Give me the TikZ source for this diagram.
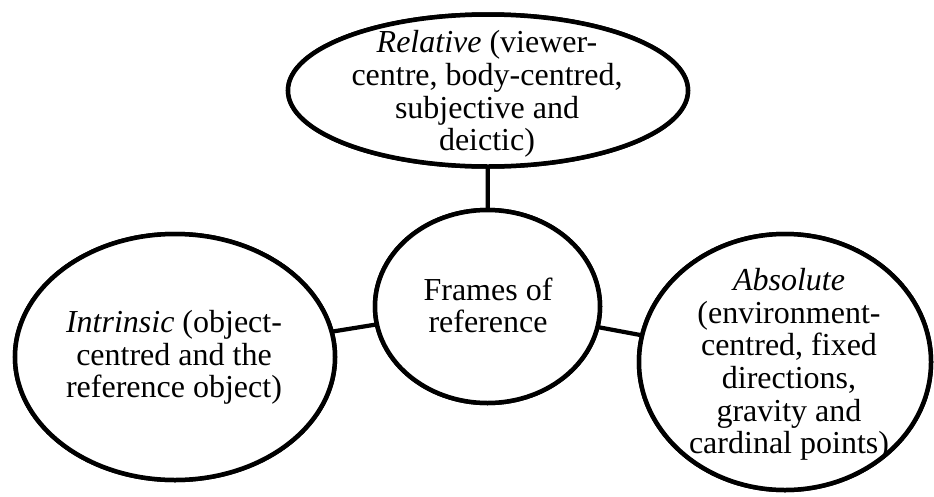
\documentclass[tikz,border=0pt]{standalone}
\usepackage{fontspec}
\setmainfont{Liberation Serif}
\usetikzlibrary{shapes.geometric}
\tikzset{
  frame/.style={ellipse, draw=black, line width=4.5pt, fill=white, inner sep=0pt, outer sep=0pt},
  label text/.style={align=center, inner sep=0pt, font=\fontsize{32}{32.6}\selectfont},
  link/.style={line width=4.2pt, black}
}
\begin{document}
\begin{tikzpicture}[x=1pt, y=-1pt]
  \useasboundingbox (0,0) rectangle (934,496);
  % outlines of the four frames
  \node[frame, minimum width=400pt, minimum height=152pt] (rel) at (488,90.5) {};
  \node[frame, minimum width=225pt, minimum height=193pt] (mid) at (487.5,306.5) {};
  \node[frame, minimum width=320pt, minimum height=246pt] (intr) at (175,357) {};
  \node[frame, minimum width=292pt, minimum height=256pt] (abs) at (785,362) {};
  % links to the central frame
  \draw[link] (rel) -- (mid);
  \draw[link] (intr) -- (mid);
  \draw[link] (abs) -- (mid);
  % redraw outlines over the link ends
  \node[frame, minimum width=400pt, minimum height=152pt] at (rel.center) {};
  \node[frame, minimum width=225pt, minimum height=193pt] at (mid.center) {};
  \node[frame, minimum width=320pt, minimum height=246pt] at (intr.center) {};
  \node[frame, minimum width=292pt, minimum height=256pt] at (abs.center) {};
  % texts
  \node[label text] (reltext) at (487,94) {\textit{Relative} (viewer-\\centre, body-centred,\\subjective and\\deictic)};
  \node[label text] (midtext) at (488,305.5) {Frames of\\reference};
  \node[label text] (intrtext) at (174,357.5) {\textit{Intrinsic} (object-\\centred and the\\reference object)};
  \node[label text] (abstext) at (789,364.5) {\textit{Absolute}\\(environment-\\centred, fixed\\directions,\\gravity and\\cardinal points)};
\end{tikzpicture}
\end{document}
